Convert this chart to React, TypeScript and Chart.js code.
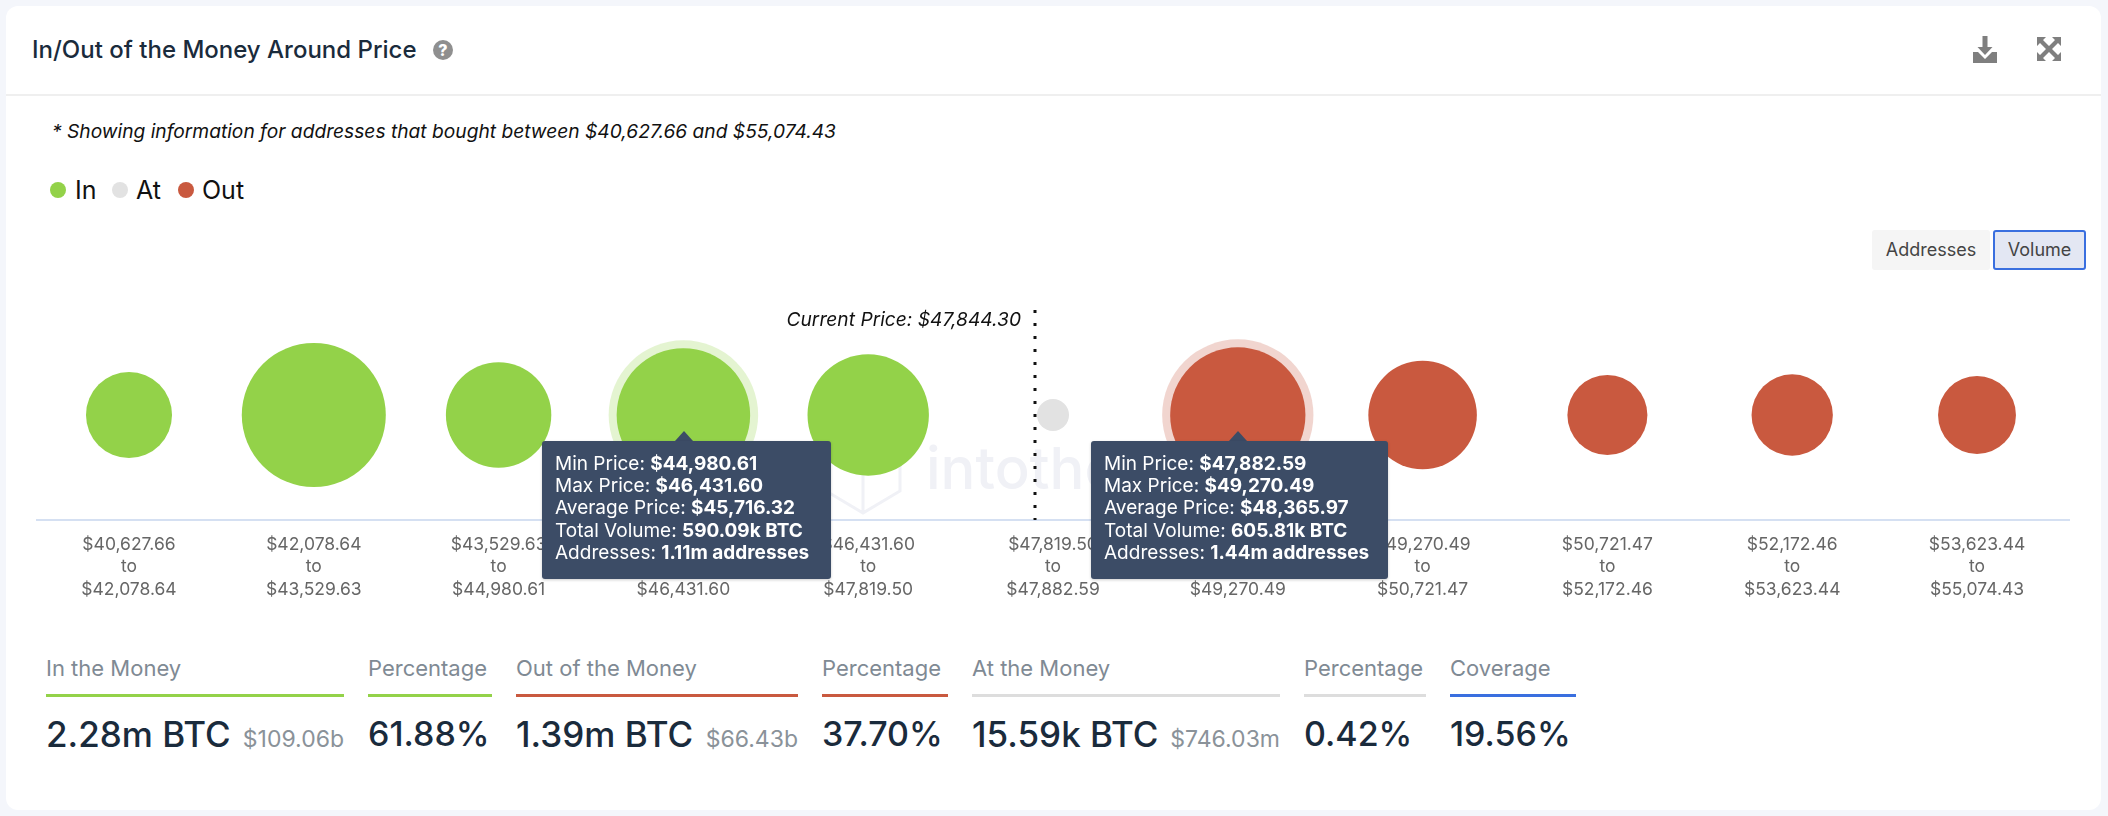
import React, { useEffect, useRef } from "react";
import { Chart, registerables } from "chart.js";

Chart.register(...registerables);

const priceRanges: [string, string][] = [
  ["$40,627.66", "$42,078.64"],
  ["$42,078.64", "$43,529.63"],
  ["$43,529.63", "$44,980.61"],
  ["$44,980.61", "$46,431.60"],
  ["$46,431.60", "$47,819.50"],
  ["$47,819.50", "$47,882.59"],
  ["$47,882.59", "$49,270.49"],
  ["$49,270.49", "$50,721.47"],
  ["$50,721.47", "$52,172.46"],
  ["$52,172.46", "$53,623.44"],
  ["$53,623.44", "$55,074.43"],
];
const inVolume = [245, 687, 368, 590.09, 488];
const atVolume = [15.59];
const outVolume = [605.81, 390, 212, 219, 201];
const highlighted = [3, 6];
const currentPriceLabel = "Current Price: $47,844.30";
const currentPricePosition = 4.9;

const GREEN = "#93d249";
const GREY = "#e2e2e2";
const RED = "#c9593f";
const FONT = "Inter, sans-serif";

const radiusOf = (v: number) => Math.max(16, Math.sqrt(v * 7.55));

const stats = [
  { label: "In the Money", value: "2.28m BTC", sub: "$109.06b", color: GREEN, x: 46, w: 298 },
  { label: "Percentage", value: "61.88%", color: GREEN, x: 368, w: 124 },
  { label: "Out of the Money", value: "1.39m BTC", sub: "$66.43b", color: RED, x: 516, w: 282 },
  { label: "Percentage", value: "37.70%", color: RED, x: 822, w: 126 },
  { label: "At the Money", value: "15.59k BTC", sub: "$746.03m", color: "#dddddd", x: 972, w: 308 },
  { label: "Percentage", value: "0.42%", color: "#dddddd", x: 1304, w: 122 },
  { label: "Coverage", value: "19.56%", color: "#3a6fdf", x: 1450, w: 126 },
];

const tooltips = [
  { left: 542, width: 289, arrow: 683.5, rows: [["Min Price: ", "$44,980.61"], ["Max Price: ", "$46,431.60"], ["Average Price: ", "$45,716.32"], ["Total Volume: ", "590.09k BTC"], ["Addresses: ", "1.11m addresses"]] },
  { left: 1091, width: 297, arrow: 1237.5, rows: [["Min Price: ", "$47,882.59"], ["Max Price: ", "$49,270.49"], ["Average Price: ", "$48,365.97"], ["Total Volume: ", "605.81k BTC"], ["Addresses: ", "1.44m addresses"]] },
];

const abs = (o: React.CSSProperties): React.CSSProperties => ({ position: "absolute", whiteSpace: "nowrap", ...o });

export default function App() {
  const ref = useRef<HTMLCanvasElement>(null);
  useEffect(() => {
    const labels = priceRanges.map((r) => [r[0], "to", r[1]]);
    const pts = (vals: number[], start: number) =>
      vals.map((v, i) => ({ x: labels[start + i], y: 0, r: radiusOf(v) }));
    const all = [...inVolume, ...atVolume, ...outVolume];
    const refLine = {
      id: "refLine",
      afterDatasetsDraw(c: any) {
        const { ctx, scales, chartArea } = c;
        const x = Math.round(scales.x.getPixelForValue(currentPricePosition));
        ctx.save();
        ctx.strokeStyle = "#111";
        ctx.lineWidth = 3;
        ctx.setLineDash([3, 10]);
        ctx.beginPath();
        ctx.moveTo(x, chartArea.top);
        ctx.lineTo(x, chartArea.bottom);
        ctx.stroke();
        ctx.setLineDash([]);
        ctx.fillStyle = "#111";
        ctx.font = `italic 19.2px ${FONT}`;
        ctx.textAlign = "right";
        ctx.textBaseline = "middle";
        ctx.fillText(currentPriceLabel, x - 14, chartArea.top + 10);
        ctx.restore();
      },
    };
    const chart = new Chart(ref.current!, {
      type: "bubble",
      data: {
        labels,
        datasets: [
          {
            label: "halo",
            data: highlighted.map((i) => ({ x: labels[i], y: 0, r: radiusOf(all[i]) + 8 })),
            backgroundColor: highlighted.map((i) => (i < 5 ? "rgba(147,210,73,0.25)" : "rgba(201,89,63,0.25)")),
            borderWidth: 0,
            order: 2,
          },
          { label: "In", data: pts(inVolume, 0), backgroundColor: GREEN, borderWidth: 0, order: 1 },
          { label: "At", data: pts(atVolume, 5), backgroundColor: GREY, borderWidth: 0, order: 1 },
          { label: "Out", data: pts(outVolume, 6), backgroundColor: RED, borderWidth: 0, order: 1 },
        ],
      } as any,
      options: {
        animation: false,
        responsive: false,
        layout: { autoPadding: false, padding: { left: 36.6, right: 38.6, top: 310, bottom: 0 } },
        plugins: { legend: { display: false }, tooltip: { enabled: false } },
        scales: {
          x: {
            type: "category",
            offset: true,
            grid: { display: false, drawTicks: false },
            border: { color: "#d5e0f2", width: 2 },
            afterFit: (s: any) => {
              s.height = 100;
              s.paddingLeft = 0;
              s.paddingRight = 0;
            },
            ticks: {
              color: "#666666",
              font: { family: FONT, size: 17.5, lineHeight: 1.29 },
              padding: 13,
              maxRotation: 0,
              autoSkip: false,
            },
          },
          y: { display: false, min: -1, max: 1 },
        },
      } as any,
      plugins: [refLine as any],
    });
    return () => chart.destroy();
  }, []);

  return (
    <div style={{ position: "absolute", left: 0, top: 0, width: 2108, height: 816, background: "#f4f6fb", overflow: "hidden", fontFamily: FONT }}>
      <div style={abs({ left: 6, top: 6, width: 2095, height: 804, background: "#fff", borderRadius: 12 })} />
      <div style={abs({ left: 32, top: 36, fontSize: 24, lineHeight: "28px", fontWeight: 500, color: "#1a2b3c" })}>In/Out of the Money Around Price</div>
      <svg style={abs({ left: 433, top: 40 })} width={20} height={20} viewBox="0 0 20 20">
        <circle cx={10} cy={10} r={10} fill="#8f8f8f" />
        <text x={10} y={15.500} textAnchor="middle" fontFamily={FONT} fontWeight={800} fontSize={16} fill="#fff">?</text>
      </svg>
      <svg style={abs({ left: 1973, top: 36 })} width={24} height={27} viewBox="0 0 24 27">
        <path d="M9.500 0h5v11h5l-7.500 8-7.500-8h5z M0 16h5l7 7 7-7h5v11H0z" fill="#7f7f7f" />
      </svg>
      <svg style={abs({ left: 2037, top: 37 })} width={24} height={24} viewBox="0 0 24 24" fill="#7f7f7f">
        <path d="M0 0h9L6 3l6 6 6-6-3-3h9v9l-3-3-6 6 6 6 3-3v9h-9l3-3-6-6-6 6 3 3H0v-9l3 3 6-6-6-6-3 3z" />
      </svg>
      <div style={abs({ left: 6, top: 94, width: 2095, height: 1.5, background: "#efefef" })} />
      <div style={abs({ left: 52, top: 119, fontSize: 19.2, lineHeight: "24px", fontStyle: "italic", color: "#111" })}>* Showing information for addresses that bought between $40,627.66 and $55,074.43</div>
      {[["In", GREEN, 50, 75], ["At", GREY, 112, 136], ["Out", RED, 178, 202]].map(([t, c, dot, tx]) => (
        <React.Fragment key={t as string}>
          <div style={abs({ left: dot as number, top: 182, width: 16, height: 16, borderRadius: 8, background: c as string })} />
          <div style={abs({ left: tx as number, top: 174, fontSize: 25, lineHeight: "32px", color: "#111" })}>{t}</div>
        </React.Fragment>
      ))}
      <div style={abs({ left: 1872, top: 230, width: 118, height: 40, lineHeight: "40px", textAlign: "center", background: "#f5f5f5", borderRadius: 3, fontSize: 18, color: "#444" })}>Addresses</div>
      <div style={abs({ left: 1993, top: 230, width: 93, height: 40, boxSizing: "border-box", lineHeight: "36px", textAlign: "center", background: "#e3e7f3", border: "2px solid #3a6fdf", borderRadius: 3, fontSize: 18, color: "#444" })}>Volume</div>

      <svg style={abs({ left: 820, top: 425 })} width={90} height={92} viewBox="0 0 90 92" fill="none" stroke="#f0f1f6" strokeWidth={3}>
        <path d="M43 3 L80 24 V66 L43 88 L6 66 V24 Z M6 24 L43 45 L80 24 M43 45 V88" />
      </svg>
      <div style={abs({ left: 926, top: 433, fontSize: 58, lineHeight: "70px", color: "#f0f1f6", fontWeight: 500 })}>intotheblock</div>

      <canvas ref={ref} width={2108} height={620} style={{ position: "absolute", left: 0, top: 0, width: 2108, height: 620 }} />

      {tooltips.map((t) => (
        <React.Fragment key={t.left}>
          <div style={abs({ left: t.arrow - 9, top: 431, width: 0, height: 0, borderLeft: "9px solid transparent", borderRight: "9px solid transparent", borderBottom: "10px solid #3c4c66" })} />
          <div style={abs({ left: t.left, top: 441, width: t.width, height: 138, background: "#3c4c66", borderRadius: 3, boxShadow: "0 1px 3px rgba(0,0,0,0.2)", color: "#fff", fontSize: 19, lineHeight: "22.2px", paddingLeft: 13, paddingTop: 12, boxSizing: "border-box" })}>
            {t.rows.map((r) => (
              <div key={r[0]}>{r[0]}<b>{r[1]}</b></div>
            ))}
          </div>
        </React.Fragment>
      ))}

      {stats.map((s, i) => (
        <div key={i} style={abs({ left: s.x, top: 655, width: s.w })}>
          <div style={{ fontSize: 22, lineHeight: "26px", color: "#7f8a94" }}>{s.label}</div>
          <div style={{ height: 2.5, background: s.color, marginTop: 13 }} />
          <div style={{ marginTop: 15, lineHeight: "44px", display: "flex", justifyContent: "space-between", alignItems: "baseline" }}>
            <span style={{ fontSize: s.sub ? 35 : 34, fontWeight: 500, color: "#1a2b3c" }}>{s.value}</span>
            {s.sub ? <span style={{ fontSize: 23, color: "#8a9299" }}>{s.sub}</span> : null}
          </div>
        </div>
      ))}
    </div>
  );
}
